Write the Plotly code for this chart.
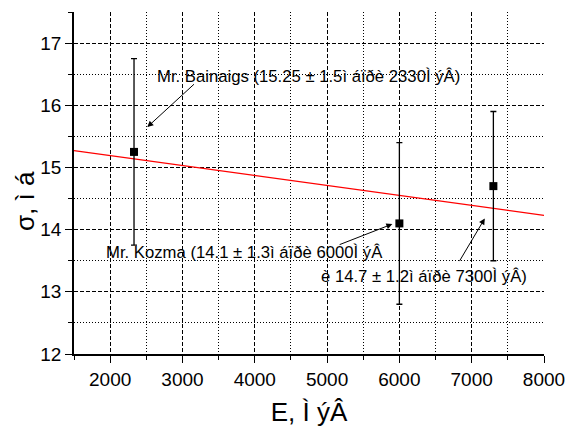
import plotly.graph_objects as go

# Data
energies = [2330, 6000, 7300]
sigma = [15.25, 14.1, 14.7]
sigma_err = [1.5, 1.3, 1.2]

fit_x = [1500, 8000]
fit_y = [15.27, 14.23]

x_title = "E, Ì ýÂ"
y_title = "σ, ì á"

label_texts = [
    "Mr. Bainaigs (15.25 ± 1.5ì áïðè 2330Ì ýÂ)",
    "Mr. Kozma (14.1 ± 1.3ì áïðè 6000Ì ýÂ",
    "è 14.7 ± 1.2ì áïðè 7300Ì ýÂ)",
]
label_x = [2625, 1917, 4889]
label_y = [16.46, 13.63, 13.25]

arrow_tail_x = [3180, 5153, 6819]
arrow_tail_y = [16.36, 13.75, 13.47]
arrow_head_x = [2514, 5903, 7181]
arrow_head_y = [15.65, 14.09, 14.18]

FONT = "Liberation Sans, Arial, sans-serif"

fig = go.Figure()

fig.add_trace(go.Scatter(
    x=fit_x, y=fit_y, mode="lines",
    line=dict(color="red", width=1.2),
    showlegend=False, hoverinfo="skip",
))

fig.add_trace(go.Scatter(
    x=energies, y=sigma, mode="markers",
    marker=dict(symbol="square", size=8, color="black"),
    error_y=dict(type="data", array=sigma_err, visible=True,
                 color="black", thickness=1.3, width=3),
    showlegend=False,
))

plot_w = 567 - 74 - 23
plot_h = 428 - 12 - 74

annotations = []
for t, x, y in zip(label_texts, label_x, label_y):
    annotations.append(dict(
        x=x, y=y, xref="x", yref="y", text=t, showarrow=False,
        xanchor="left", yanchor="middle",
        font=dict(family=FONT, size=16.7, color="black"),
    ))
for tx, ty, hx, hy in zip(arrow_tail_x, arrow_tail_y, arrow_head_x, arrow_head_y):
    annotations.append(dict(
        x=hx, y=hy, ax=tx, ay=ty, xref="x", yref="y", axref="x", ayref="y",
        text="", showarrow=True, arrowhead=2, arrowsize=1.2, arrowwidth=1,
        arrowcolor="black", standoff=0, startstandoff=0,
    ))
annotations.append(dict(
    x=(25 - 74) / plot_w, y=1 - (201 - 12) / plot_h,
    xref="paper", yref="paper", text=y_title, showarrow=False,
    textangle=-90, font=dict(family=FONT, size=26, color="black"),
    xanchor="center", yanchor="middle",
))

fig.update_layout(
    width=567, height=428,
    margin=dict(l=74, r=23, t=12, b=74),
    paper_bgcolor="white", plot_bgcolor="white",
    font=dict(family=FONT, color="black"),
    showlegend=False,
    annotations=annotations,
)

fig.update_xaxes(
    range=[1500, 8000], dtick=1000, tick0=0, automargin=False,
    showline=True, linecolor="black", linewidth=1.6, mirror=False,
    ticks="outside", ticklen=7, tickwidth=1.3, tickcolor="black",
    tickfont=dict(family=FONT, size=19, color="black"),
    showgrid=True, gridcolor="black", gridwidth=1, griddash="4px,2px",
    zeroline=False,
    minor=dict(dtick=500, tick0=0, ticks="outside", ticklen=4, tickwidth=1.3,
               tickcolor="black", showgrid=True, gridcolor="black",
               gridwidth=1, griddash="1px,2px"),
    title=dict(text=x_title, font=dict(family=FONT, size=26, color="black"), standoff=14),
)
fig.update_yaxes(
    range=[12, 17.5], dtick=1, tick0=0, automargin=False,
    showline=True, linecolor="black", linewidth=1.6, mirror=False,
    ticks="outside", ticklen=7, tickwidth=1.3, tickcolor="black",
    tickfont=dict(family=FONT, size=19, color="black"),
    showgrid=True, gridcolor="black", gridwidth=1, griddash="4px,2px",
    zeroline=False,
    minor=dict(dtick=0.5, tick0=0, ticks="outside", ticklen=4, tickwidth=1.3,
               tickcolor="black", showgrid=True, gridcolor="black",
               gridwidth=1, griddash="1px,2px"),
)

fig.write_html("out.html")
